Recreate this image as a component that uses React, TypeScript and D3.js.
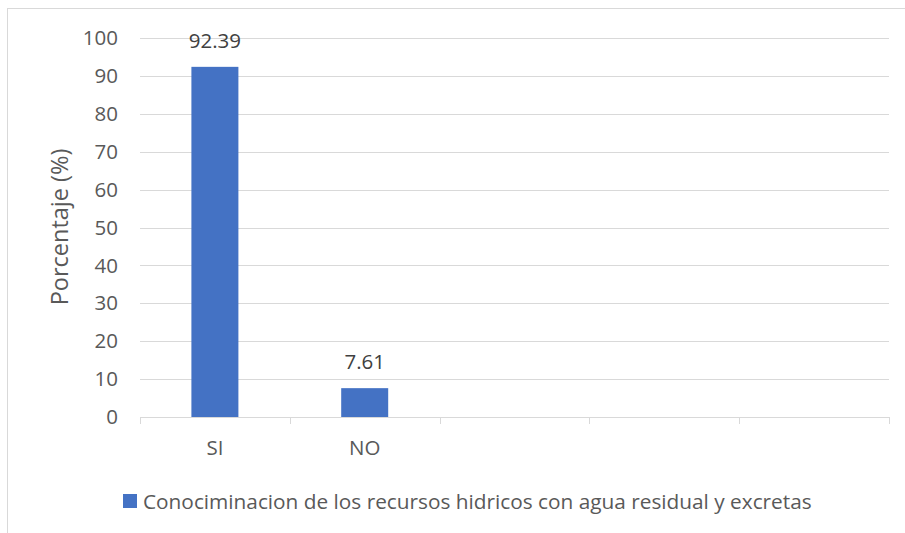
import React from "react";
import * as d3 from "d3";

const categories = ["SI", "NO", "", "", ""];
const values: (number | null)[] = [92.39, 7.61, null, null, null];
const yTicks = [0, 10, 20, 30, 40, 50, 60, 70, 80, 90, 100];
const seriesName = "Conociminacion de los recursos hidricos con agua residual y excretas";
const yTitle = "Porcentaje (%)";

const W = 905;
const H = 533;
const FONT = "'Open Sans', sans-serif";
const TEXT = "#595959";
const GRID = "#d9d9d9";
const BAR = "#4472c4";

export default function App() {
  const x = d3.scaleBand<number>().domain(d3.range(categories.length)).range([140, 889]).paddingInner(0).paddingOuter(0);
  const y = d3.scaleLinear().domain([0, 100]).range([417, 38]);
  const barW = 47;
  const tickXs = [...d3.range(categories.length).map((i) => x(i)!), 889];

  return (
    <svg width={W} height={H} style={{ position: "absolute", left: 0, top: 0, background: "#fff" }} fontFamily={FONT}>
      <rect x={7.5} y={8.5} width={W + 10} height={H + 10} fill="#fff" stroke={GRID} strokeWidth={1} />
      {yTicks.map((t) => (
        <g key={t}>
          {t !== 0 && <line x1={140} x2={889} y1={Math.round(y(t)) + 0.5} y2={Math.round(y(t)) + 0.5} stroke={GRID} strokeWidth={1} />}
          <text x={118} y={y(t)} dy="0.35em" textAnchor="end" fontSize={20.5} fill={TEXT}>{t}</text>
        </g>
      ))}
      <line x1={140} x2={889} y1={417.5} y2={417.5} stroke={GRID} strokeWidth={1} />
      {tickXs.map((tx, i) => (
        <line key={i} x1={Math.round(tx) + 0.5} x2={Math.round(tx) + 0.5} y1={417} y2={424} stroke={GRID} strokeWidth={1} />
      ))}
      {values.map((v, i) =>
        v == null ? null : (
          <g key={i}>
            <rect x={x(i)! + x.bandwidth() / 2 - barW / 2} y={y(v)} width={barW} height={y(0) - y(v)} fill={BAR} />
            <text x={x(i)! + x.bandwidth() / 2} y={y(v) - 26} dy="0.35em" textAnchor="middle" fontSize={20.5} fill="#404040">{v.toFixed(2)}</text>
          </g>
        )
      )}
      {categories.map((c, i) => (
        <text key={i} x={x(i)! + x.bandwidth() / 2} y={448} dy="0.35em" textAnchor="middle" fontSize={20.5} fill={TEXT}>{c}</text>
      ))}
      <text transform={`translate(60,227) rotate(-90)`} dy="0.35em" textAnchor="middle" fontSize={23.5} fill={TEXT}>{yTitle}</text>
      <rect x={123} y={494} width={14} height={14} fill={BAR} />
      <text x={143} y={502} dy="0.35em" fontSize={20.8} fill={TEXT}>{seriesName}</text>
    </svg>
  );
}
